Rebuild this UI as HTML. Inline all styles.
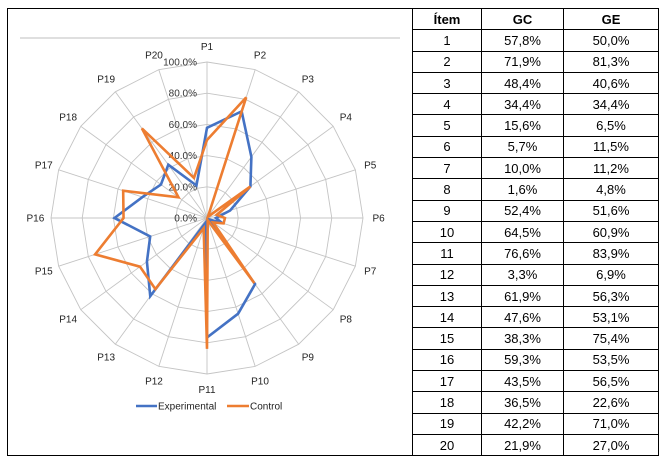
<!DOCTYPE html>
<html><head><meta charset="utf-8"><style>
body{margin:0;width:659px;height:460px;background:#fff;overflow:hidden;font-family:"Liberation Sans",Arial,sans-serif;}
#chartbox{position:absolute;left:7px;top:8px;width:405px;height:448px;border:1px solid #000;border-right:none;box-sizing:border-box;}
table{position:absolute;left:412px;top:8px;border-collapse:collapse;font-size:13px;}
td,th{border:1px solid #000;height:20.3px;padding:0;text-align:center;}
th{font-weight:bold;font-size:13px;}
</style></head><body>
<div id="chartbox"></div>
<svg id="radar" width="412" height="460" style="position:absolute;left:0;top:0"></svg>
<table>
<colgroup><col style="width:69px"><col style="width:82px"><col style="width:95px"></colgroup>
<thead><tr><th>Ítem</th><th>GC</th><th>GE</th></tr></thead>
<tbody id="tb"></tbody>
</table>
<script>
const categories=["P1","P2","P3","P4","P5","P6","P7","P8","P9","P10","P11","P12","P13","P14","P15","P16","P17","P18","P19","P20"];
const experimental=[57.8,71.9,48.4,34.4,15.6,5.7,10.0,1.6,52.4,64.5,76.6,3.3,61.9,47.6,38.3,59.3,43.5,36.5,42.2,21.9];
const control=[50.0,81.3,1.0,34.4,6.5,11.5,11.2,4.8,51.6,1.5,83.9,6.9,56.3,53.1,75.4,53.5,56.5,22.6,71.0,27.0];
const ticks=[0,20,40,60,80,100];
const tickLabels=["0.0%","20.0%","40.0%","60.0%","80.0%","100.0%"];
const gcLabels=["57,8%","71,9%","48,4%","34,4%","15,6%","5,7%","10,0%","1,6%","52,4%","64,5%","76,6%","3,3%","61,9%","47,6%","38,3%","59,3%","43,5%","36,5%","42,2%","21,9%"];
const geLabels=["50,0%","81,3%","40,6%","34,4%","6,5%","11,5%","11,2%","4,8%","51,6%","60,9%","83,9%","6,9%","56,3%","53,1%","75,4%","53,5%","56,5%","22,6%","71,0%","27,0%"];
const NS="http://www.w3.org/2000/svg";
const svg=document.getElementById('radar');
const cx=207,cy=218,R=156,N=categories.length;
function ang(i){return -Math.PI/2+i*2*Math.PI/N;}
function pt(i,v){const r=v/100*R;return [cx+r*Math.cos(ang(i)),cy+r*Math.sin(ang(i))];}
function mk(tag,attrs){const e=document.createElementNS(NS,tag);for(const k in attrs)e.setAttribute(k,attrs[k]);svg.appendChild(e);return e;}
let hl=mk('line',{x1:20,y1:38,x2:400,y2:38,stroke:'#bfbfbf','stroke-width':1});


ticks.forEach((t,k)=>{if(t===0)return;const pts=categories.map((c,i)=>pt(i,t).join(',')).join(' ');
 const g=mk('polygon',{points:pts,fill:'none',stroke:'#c4c4c4','stroke-width':0.9});
 
 });
categories.forEach((c,i)=>{const p=pt(i,100);
 const l=mk('line',{x1:cx,y1:cy,x2:p[0],y2:p[1],stroke:'#c4c4c4','stroke-width':0.9});
 
 
 const q=pt(i,110);
 const t=mk('text',{x:q[0],y:q[1]+3.5,'font-size':10,'text-anchor':'middle',fill:'#222'});
 t.textContent=c;
 
 });
ticks.forEach((t,k)=>{const p=pt(0,t);
 const e=mk('text',{x:cx-10,y:p[1]+3.5,'font-size':10,'text-anchor':'end',fill:'#333'});
 e.textContent=tickLabels[k];
 
 });
function series(vals,color,name){const pts=vals.map((v,i)=>pt(i,v).join(',')).join(' ');
 const s=mk('polygon',{points:pts,fill:'none',stroke:color,'stroke-width':2.6,'stroke-linejoin':'miter'});
 
 }
series(experimental,'#4472c4','series-experimental');
series(control,'#ed7d31','series-control');
const le=mk('line',{x1:136,y1:406,x2:157,y2:406,stroke:'#4472c4','stroke-width':2.6});


const lt=mk('text',{x:158,y:409.5,'font-size':10,fill:'#222'});lt.textContent='Experimental';


const lc=mk('line',{x1:227,y1:406,x2:249,y2:406,stroke:'#ed7d31','stroke-width':2.6});


const ltc=mk('text',{x:250,y:409.5,'font-size':10,fill:'#222'});ltc.textContent='Control';


const tb=document.getElementById('tb');
categories.forEach((c,i)=>{const tr=document.createElement('tr');
 
 
 tr.innerHTML='<td>'+(i+1)+'</td><td>'+gcLabels[i]+'</td><td>'+geLabels[i]+'</td>';tb.appendChild(tr);});
</script>
</body></html>
